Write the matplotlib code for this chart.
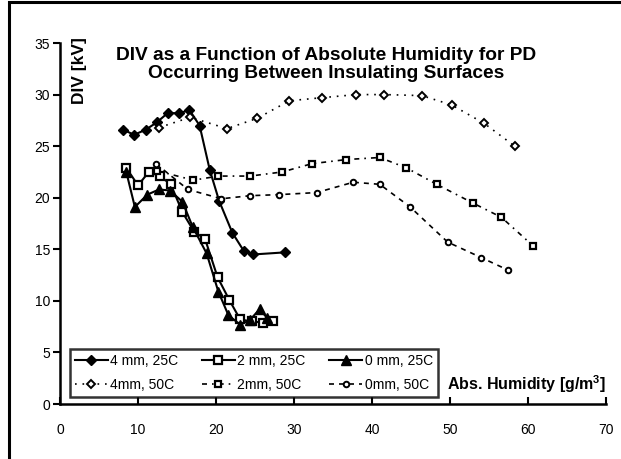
import matplotlib
matplotlib.use("Agg")
import matplotlib.pyplot as plt
from matplotlib.patches import Rectangle

plt.rcParams["font.family"] = ["Liberation Sans", "DejaVu Sans"]

# 25C series
x_4mm_25 = [8.1, 9.5, 11.0, 12.4, 13.8, 15.3, 16.6, 17.9, 19.2, 20.4, 22.1, 23.6, 24.8, 28.8]
y_4mm_25 = [26.6, 26.1, 26.6, 27.3, 28.2, 28.2, 28.5, 27.0, 22.7, 19.7, 16.6, 14.8, 14.5, 14.7]

x_2mm_25 = [8.5, 10.0, 11.4, 12.8, 14.2, 15.7, 17.2, 18.6, 20.2, 21.7, 23.1, 24.6, 26.0, 27.3]
y_2mm_25 = [22.9, 21.2, 22.5, 22.1, 21.3, 18.6, 16.7, 16.0, 12.3, 10.1, 8.2, 8.0, 7.9, 8.0]

x_0mm_25 = [8.5, 9.6, 11.2, 12.7, 14.1, 15.7, 17.0, 18.8, 20.3, 21.6, 23.1, 24.3, 25.6, 26.6]
y_0mm_25 = [22.5, 19.1, 20.3, 20.8, 20.7, 19.6, 17.2, 14.6, 10.9, 8.6, 7.7, 8.1, 9.2, 8.3]

# 50C series
x_4mm_50 = [12.7, 16.7, 21.4, 25.3, 29.4, 33.6, 38.0, 41.6, 46.4, 50.2, 54.4, 58.3]
y_4mm_50 = [26.8, 27.8, 26.7, 27.7, 29.4, 29.7, 30.0, 30.0, 29.9, 29.0, 27.2, 25.0]

x_2mm_50 = [12.5, 17.1, 20.3, 24.4, 28.5, 32.3, 36.7, 41.0, 44.4, 48.3, 52.9, 56.6, 60.7]
y_2mm_50 = [22.6, 21.7, 22.1, 22.1, 22.5, 23.3, 23.7, 23.9, 22.9, 21.3, 19.5, 18.1, 15.3]

x_0mm_50 = [12.3, 16.4, 20.7, 24.4, 28.1, 32.9, 37.6, 41.0, 44.9, 49.7, 54.0, 57.4]
y_0mm_50 = [23.3, 20.8, 19.9, 20.2, 20.3, 20.5, 21.5, 21.3, 19.1, 15.7, 14.2, 13.0]

labels = ["4 mm, 25C", "2 mm, 25C", "0 mm, 25C", "4mm, 50C", "2mm, 50C", "0mm, 50C"]

fig = plt.figure(figsize=(6.21, 4.59), dpi=100)
ax = fig.add_axes([0.0966, 0.1198, 0.8792, 0.7865])

# figure border (only top/left visible in the reference)
fig.patches.append(Rectangle((8.5 / 621, -0.05), 1.2, 1 - 2 / 459 + 0.05,
                             transform=fig.transFigure, fill=False,
                             edgecolor="black", linewidth=2.2))

h1, = ax.plot(x_4mm_25, y_4mm_25, "-", color="black", lw=1.5, marker="D",
              ms=5.5, mfc="black", mec="black")
h2, = ax.plot(x_2mm_25, y_2mm_25, "-", color="black", lw=1.5, marker="s",
              ms=5.5, mfc="white", mec="black", mew=1.6)
h3, = ax.plot(x_0mm_25, y_0mm_25, "-", color="black", lw=1.5, marker="^",
              ms=7.5, mfc="black", mec="black")
h4, = ax.plot(x_4mm_50, y_4mm_50, color="black", lw=1.2, ls=(0, (1, 3.5)),
              marker="D", ms=4, mfc="white", mec="black", mew=1.4)
h5, = ax.plot(x_2mm_50, y_2mm_50, color="black", lw=1.2, ls=(0, (3, 3, 1, 3)),
              marker="s", ms=4.2, mfc="white", mec="black", mew=1.6)
h6, = ax.plot(x_0mm_50, y_0mm_50, color="black", lw=1.2, ls=(0, (3, 3)),
              marker="o", ms=4, mfc="white", mec="black", mew=1.4)

ax.set_xlim(0, 70)
ax.set_ylim(0, 35)
ax.set_xticks(range(0, 71, 10))
ax.set_yticks(range(0, 36, 5))
ax.spines["top"].set_visible(False)
ax.spines["right"].set_visible(False)
ax.spines["left"].set_linewidth(1.8)
ax.spines["bottom"].set_linewidth(1.8)
ax.tick_params(axis="y", direction="out", length=5, width=1.5, labelsize=10, pad=2)
ax.tick_params(axis="x", direction="in", length=5, width=1.5, labelsize=10, pad=14)

ax.text(0.487, 0.99, "DIV as a Function of Absolute Humidity for PD\n"
        "Occurring Between Insulating Surfaces",
        transform=ax.transAxes, ha="center", va="top", fontsize=13.8,
        fontweight="bold", linespacing=1.1)
ax.text(1.5, 35.6, "DIV [kV]", rotation=90, ha="left", va="top",
        fontsize=12.5, fontweight="bold")
ax.text(70, 0.9, "Abs. Humidity [g/m$^\\mathregular{3}$]", ha="right",
        va="bottom", fontsize=11.5, fontweight="bold")

leg = ax.legend([h1, h4, h2, h5, h3, h6],
                [labels[0], labels[3], labels[1], labels[4], labels[2], labels[5]],
                ncol=3, loc="lower left", bbox_to_anchor=(0.018, 0.019),
                borderaxespad=0, fontsize=10, frameon=True, fancybox=False,
                handlelength=2.4, handletextpad=0.15, columnspacing=1.7,
                borderpad=0.35, labelspacing=0.75)
leg.get_frame().set_edgecolor("black")
leg.get_frame().set_linewidth(1.8)

fig.savefig("out.png", dpi=100)
